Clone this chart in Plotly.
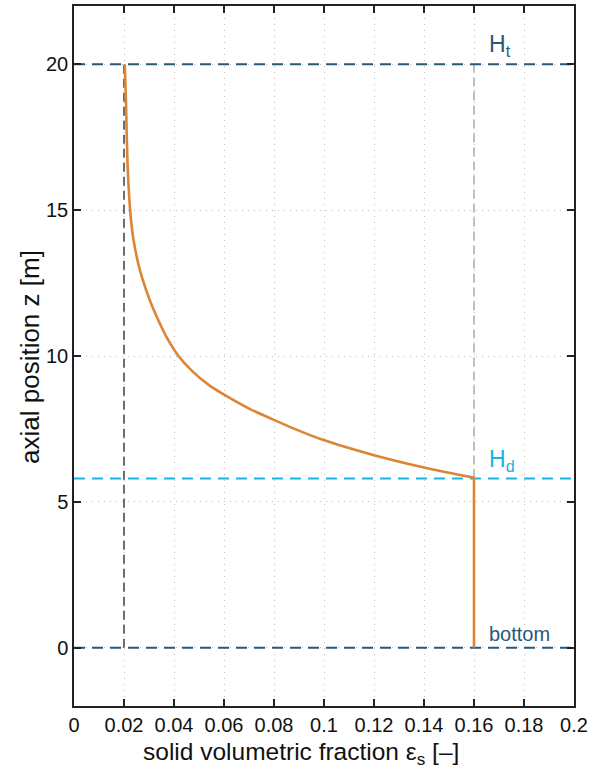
import plotly.graph_objects as go

# Data
eps_lower = [0.16, 0.16]
z_lower = [0.0, 5.83]
eps_curve = [0.16, 0.1404, 0.1204, 0.1004, 0.0877, 0.0797, 0.0704, 0.0597, 0.054, 0.0472,
             0.0418, 0.0372, 0.0336, 0.0302, 0.0273, 0.0258, 0.0237, 0.0225, 0.0215,
             0.0211, 0.0208, 0.0205, 0.0203]
z_curve = [5.83, 6.17, 6.59, 7.10, 7.52, 7.82, 8.18, 8.69, 9.0, 9.49,
           10.0, 10.62, 11.25, 11.94, 12.67, 13.13, 14.04, 14.95, 16.43,
           17.57, 18.7, 19.5, 20.0]
H_t = 20.0
H_d = 5.8
H_bottom = 0.0
eps_min = 0.02
eps_max = 0.16
x_range = [0, 0.2]
y_range = [-2, 22]
x_ticks = [0, 0.02, 0.04, 0.06, 0.08, 0.1, 0.12, 0.14, 0.16, 0.18, 0.2]
x_ticklabels = ["0", "0.02", "0.04", "0.06", "0.08", "0.1", "0.12", "0.14", "0.16", "0.18", "0.2"]
y_ticks = [0, 5, 10, 15, 20]

DARK = "#2B5778"
CYAN = "#19B2E3"
ORANGE = "#DB8535"

fig = go.Figure()

# vertical helper lines
fig.add_trace(go.Scatter(x=[eps_min, eps_min], y=[H_bottom, H_t], mode="lines",
                         line=dict(color="#6E6E6E", width=2, dash="9px,5px"), showlegend=False))
fig.add_trace(go.Scatter(x=[eps_max, eps_max], y=[H_d, H_t], mode="lines",
                         line=dict(color="#C0C0C0", width=2, dash="9px,5px"), showlegend=False))
# horizontal lines
for h, c in [(H_t, DARK), (H_d, CYAN), (H_bottom, DARK)]:
    fig.add_trace(go.Scatter(x=x_range, y=[h, h], mode="lines",
                             line=dict(color=c, width=2, dash="11px,7px"), showlegend=False))
# profile
fig.add_trace(go.Scatter(x=eps_lower, y=z_lower, mode="lines",
                         line=dict(color=ORANGE, width=2.6), showlegend=False))
fig.add_trace(go.Scatter(x=eps_curve, y=z_curve, mode="lines",
                         line=dict(color=ORANGE, width=2.6, shape="spline", smoothing=0.8),
                         showlegend=False))

ann_font = "Liberation Sans, Arial, sans-serif"
fig.add_annotation(x=0.165, y=H_t, text="H<sub>t</sub>", showarrow=False,
                   xanchor="left", yanchor="bottom", yshift=2,
                   font=dict(family=ann_font, size=23, color=DARK))
fig.add_annotation(x=0.165, y=H_d, text="H<sub>d</sub>", showarrow=False,
                   xanchor="left", yanchor="bottom", yshift=2,
                   font=dict(family=ann_font, size=23, color=CYAN))
fig.add_annotation(x=0.165, y=H_bottom, text="bottom", showarrow=False,
                   xanchor="left", yanchor="bottom", yshift=1,
                   font=dict(family=ann_font, size=20, color=DARK))

# axis titles as annotations for precise placement
fig.add_annotation(xref="paper", yref="paper", x=0.454, y=0, yshift=-30,
                   xanchor="center", yanchor="top", showarrow=False,
                   text="solid volumetric fraction ε<sub>s</sub> [–]",
                   font=dict(family=ann_font, size=24.5, color="#111"))
fig.add_annotation(xref="paper", yref="paper", x=-0.088, y=0.4986,
                   xanchor="center", yanchor="middle", showarrow=False, textangle=-90,
                   text="axial position z [m]",
                   font=dict(family=ann_font, size=26, color="#111"))

axis_common = dict(
    showline=True, linecolor="#222", linewidth=1.5, mirror="ticks",
    ticks="inside", ticklen=7, tickcolor="#222", tickwidth=1.5,
    showgrid=True, gridcolor="#BDBDBD", griddash="1px,5px", gridwidth=1,
    zeroline=False,
    tickfont=dict(family=ann_font, size=20, color="#111"),
)

fig.update_xaxes(range=x_range, tickvals=x_ticks, ticktext=x_ticklabels, **axis_common)
fig.update_yaxes(range=y_range, tickvals=y_ticks, **axis_common)

fig.update_layout(width=596, height=772, plot_bgcolor="white", paper_bgcolor="white",
                  margin=dict(l=74, r=22, t=4, b=66))

fig.write_html("out.html")
